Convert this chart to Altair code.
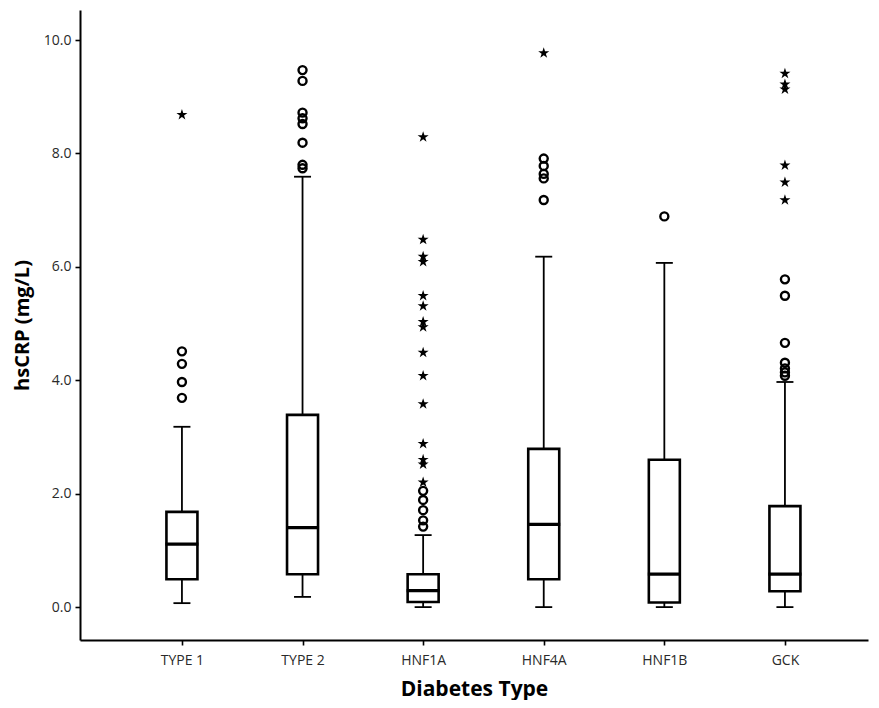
import altair as alt
import pandas as pd

# ---- data ----
categories = ["TYPE 1", "TYPE 2", "HNF1A", "HNF4A", "HNF1B", "GCK"]
whisker_low = [0.07, 0.18, 0.0, 0.0, 0.0, 0.0]
q1 = [0.49, 0.58, 0.09, 0.49, 0.08, 0.28]
median = [1.11, 1.40, 0.29, 1.46, 0.58, 0.58]
q3 = [1.68, 3.39, 0.58, 2.79, 2.60, 1.78]
whisker_high = [3.18, 7.59, 1.27, 6.18, 6.07, 3.97]

circle_cat = (["TYPE 1"] * 4 + ["TYPE 2"] * 8 + ["HNF1A"] * 5 + ["HNF4A"] * 5
              + ["HNF1B"] * 1 + ["GCK"] * 7)
circle_val = ([4.51, 4.29, 3.97, 3.69]
              + [9.47, 9.28, 8.72, 8.62, 8.52, 8.19, 7.80, 7.74]
              + [2.05, 1.89, 1.71, 1.53, 1.42]
              + [7.91, 7.78, 7.64, 7.56, 7.18]
              + [6.89]
              + [5.78, 5.49, 4.66, 4.31, 4.21, 4.14, 4.08])

star_cat = (["TYPE 1"] * 1 + ["HNF1A"] * 15 + ["HNF4A"] * 1 + ["GCK"] * 6)
star_val = ([8.68]
            + [8.29, 6.48, 6.18, 6.09, 5.49, 5.31, 5.03, 4.94, 4.49, 4.08,
               3.58, 2.88, 2.60, 2.52, 2.20]
            + [9.77]
            + [9.41, 9.22, 9.13, 7.79, 7.49, 7.18])

y_ticks = [0, 2, 4, 6, 8, 10]

stats = pd.DataFrame({"cat": categories, "lo": whisker_low, "q1": q1,
                      "med": median, "q3": q3, "hi": whisker_high})
circles = pd.DataFrame({"cat": circle_cat, "val": circle_val})
stars = pd.DataFrame({"cat": star_cat, "val": star_val})

STAR = ("M0,-1L0.2245,-0.309L0.951,-0.309L0.363,0.118L0.588,0.809L0,0.382"
        "L-0.588,0.809L-0.363,0.118L-0.951,-0.309L-0.2245,-0.309Z")

FONT = "Open Sans"

xscale = alt.Scale(type="point", padding=0.767, align=0.551)
yscale = alt.Scale(domain=[-0.58, 10.53], nice=False, zero=False)

x_enc = alt.X("cat:N", sort=categories, scale=xscale,
              axis=alt.Axis(title="Diabetes Type", labelAngle=0))
y_axis = alt.Axis(title="hsCRP (mg/L)", values=y_ticks, format=".1f")

base = alt.Chart(stats)

whisker = base.mark_rule(color="black", strokeWidth=1.8, opacity=1).encode(
    x=x_enc,
    y=alt.Y("lo:Q", scale=yscale, axis=y_axis),
    y2="hi:Q",
)
box = base.mark_bar(width=31, fill="white", stroke="black", strokeWidth=2.6,
                    opacity=1).encode(
    x=x_enc, y=alt.Y("q1:Q", scale=yscale), y2="q3:Q"
)
med_tick = base.mark_tick(color="black", size=33, thickness=3.2, opacity=1).encode(
    x=x_enc, y=alt.Y("med:Q", scale=yscale)
)
cap_lo = base.mark_tick(color="black", size=17, thickness=1.8, opacity=1).encode(
    x=x_enc, y=alt.Y("lo:Q", scale=yscale)
)
cap_hi = base.mark_tick(color="black", size=17, thickness=1.8, opacity=1).encode(
    x=x_enc, y=alt.Y("hi:Q", scale=yscale)
)
circ = alt.Chart(circles).mark_point(
    shape="circle", filled=False, color="black", size=64, strokeWidth=2.4,
    opacity=1
).encode(x=x_enc, y=alt.Y("val:Q", scale=yscale))
star = alt.Chart(stars).mark_point(
    shape=STAR, filled=True, color="black", size=135, opacity=1
).encode(x=x_enc, y=alt.Y("val:Q", scale=yscale))

chart = alt.layer(whisker, box, med_tick, cap_lo, cap_hi, circ, star).properties(
    width=788, height=630,
    autosize=alt.AutoSizeParams(type="none"),
    padding={"left": 72, "top": 2, "right": 3, "bottom": 60},
).configure_view(
    stroke=None
).configure_axis(
    grid=False,
    domainColor="black",
    domainWidth=2,
    tickColor="black",
    tickWidth=1.6,
    tickSize=5,
    labelColor="#2a2a2a",
    labelFont=FONT,
    labelFontSize=14,
    titleFont=FONT,
    titleFontWeight="bold",
    titleColor="black",
).configure_axisY(
    titleFontSize=20,
    titlePadding=11,
    labelPadding=4,
).configure_axisX(
    titleFontSize=21,
    titlePadding=11,
    labelPadding=8,
)

chart.save("out.html", embed_options={"renderer": "svg", "actions": False})
